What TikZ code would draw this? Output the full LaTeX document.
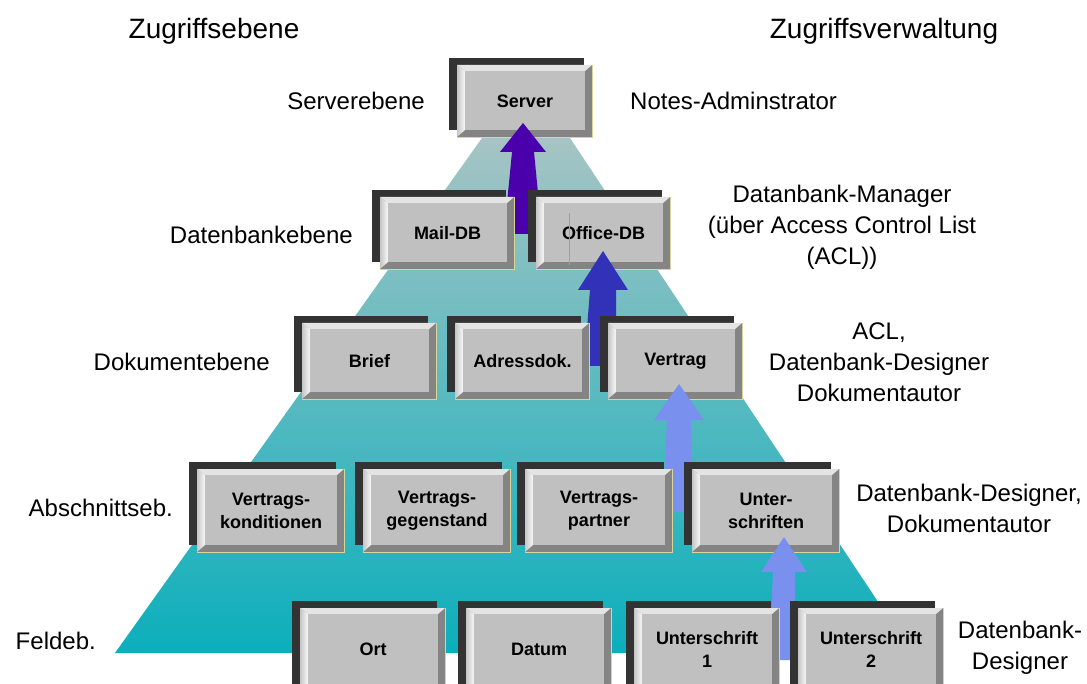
\documentclass[tikz,border=0pt]{standalone}
\usepackage{fontspec}
\setmainfont{Liberation Sans}
\usetikzlibrary{calc}

\definecolor{shadowc}{HTML}{333333}
\definecolor{facec}{HTML}{C0C0C0}
\definecolor{bevdark}{HTML}{848484}
\definecolor{bevtop}{HTML}{E4E4E4}
\definecolor{rimc}{HTML}{D8D49A}
\definecolor{pyrtop}{HTML}{A6C4C4}
\definecolor{pyrbot}{HTML}{0BAFBC}
\definecolor{arrpurple}{HTML}{4A00AA}
\definecolor{arrblue}{HTML}{3232B8}
\definecolor{arrlight}{HTML}{7A90EE}

\tikzset{
  btntext/.style={font=\bfseries\fontsize{18}{23}\selectfont, align=center, inner sep=0pt},
  lbl/.style={font=\fontsize{24}{31}\selectfont, align=center, inner sep=0pt},
  headlbl/.style={font=\fontsize{28}{34}\selectfont, inner sep=0pt},
}

% beveled button: name, left x, top y, width, height, text
\newcommand\btn[6]{%
  \fill[shadowc] (#2-8,-#3+7) rectangle ++(#4,-#5);
  \fill[bevdark] (#2,-#3) rectangle ++(#4,-#5);
  \fill[bevtop] (#2,-#3) -- ++(#4,0) -- ++(-7,-6) -- ++(-#4+15,0) -- cycle;
  \shade[left color=gray!45, right color=white!95!gray]
    (#2,-#3) -- ++(8,-6) -- ++(0,-#5+13) -- ++(-8,-7) -- cycle;
  \fill[facec] (#2+8,-#3-6) rectangle (#2+#4-7,-#3-#5+7);
  \draw[rimc, line width=0.7pt] (#2,-#3-#5) -- ++(#4,0) -- ++(0,#5);
  \node[btntext] (#1) at (#2+#4/2+0.5,-#3-#5/2) {#6};
}

% upward block arrow: colour, tip, tail, head length, head half width,
% shaft half width at head, shaft half width at tail
\newcommand\blockarrow[7]{%
  \fill[#1] let \p1=(#2), \p2=(#3) in
    (\x1,\y1) -- (\x1+#5pt,\y1-#4pt) -- (\x1+#6pt,\y1-#4pt)
    -- (\x2+#7pt,\y2) -- (\x2-#7pt,\y2)
    -- (\x1-#6pt,\y1-#4pt) -- (\x1-#5pt,\y1-#4pt) -- cycle;
}

\begin{document}
\begin{tikzpicture}[x=1pt,y=1pt]
\useasboundingbox (0,0) rectangle (1087,-684);
\begin{scope}
\clip (0,0) rectangle (1087,-684);

% pyramid
\shade[top color=pyrtop, bottom color=pyrbot]
  (482,-138) -- (570,-138) -- (912,-653) -- (115,-653) -- cycle;

% level 1
\btn{server}{457}{65}{135}{72}{Server}

\coordinate (a1tip) at (523,-123);
\coordinate (a1tail) at (523,-234);
\blockarrow{arrpurple}{a1tip}{a1tail}{29}{23}{11}{19}

% level 2
\btn{maildb}{380}{197}{134}{72}{Mail-DB}
\btn{officedb}{536}{197}{134}{72}{Office-DB}
\draw[gray!75, line width=0.6pt] (569,-213) -- (569,-265);

\coordinate (a2tip) at (603,-251);
\coordinate (a2tail) at (600,-366);
\blockarrow{arrblue}{a2tip}{a2tail}{39}{25}{13}{16}

% level 3
\btn{brief}{302}{323}{134}{76}{Brief}
\btn{adress}{455}{323}{134}{76}{Adressdok.}
\btn{vertrag}{608}{323}{134}{76}{Vertrag}

\coordinate (a3tip) at (679,-384);
\coordinate (a3tail) at (678,-512);
\blockarrow{arrlight}{a3tip}{a3tail}{36}{25}{12}{15}

% level 4
\btn{kond}{197}{469}{147}{83}{Vertrags-\\konditionen}
\btn{gegen}{363}{469}{147}{83}{Vertrags-\\gegenstand}
\btn{partner}{525}{469}{147}{83}{Vertrags-\\partner}
\btn{unters}{692}{469}{147}{83}{Unter-\\schriften}

\coordinate (a4tip) at (784,-537);
\coordinate (a4tail) at (782,-660);
\blockarrow{arrlight}{a4tip}{a4tail}{35}{23}{11}{13}

% level 5
\btn{ort}{300}{608}{145}{83}{Ort}
\btn{datum}{466}{608}{145}{83}{Datum}
\btn{ust1}{634}{608}{145}{83}{Unterschrift\\1}
\btn{ust2}{798}{608}{145}{83}{Unterschrift\\2}
\end{scope}

% headings
\node[headlbl] (hlevel) at (214,-31) {Zugriffsebene};
\node[headlbl] (hadmin) at (884,-31) {Zugriffsverwaltung};

% level names
\node[lbl, anchor=east] (l1) at (425,-101) {Serverebene};
\node[lbl, anchor=east] (l2) at (353,-235) {Datenbankebene};
\node[lbl, anchor=east] (l3) at (270,-362) {Dokumentebene};
\node[lbl, anchor=east] (l4) at (173,-508) {Abschnittseb.};
\node[lbl, anchor=east] (l5) at (96,-641) {Feldeb.};

% administration
\node[lbl, anchor=west] (r1) at (630,-101) {Notes-Adminstrator};
\node[lbl] (r2) at (842,-227) {Datanbank-Manager\\(über Access Control List\\(ACL))};
\node[lbl] (r3) at (879,-362) {ACL,\\Datenbank-Designer\\Dokumentautor};
\node[lbl] (r4) at (969,-508) {Datenbank-Designer,\\Dokumentautor};
\node[lbl] (r5) at (1020,-648) {Datenbank-\\Designer};
\end{tikzpicture}
\end{document}
